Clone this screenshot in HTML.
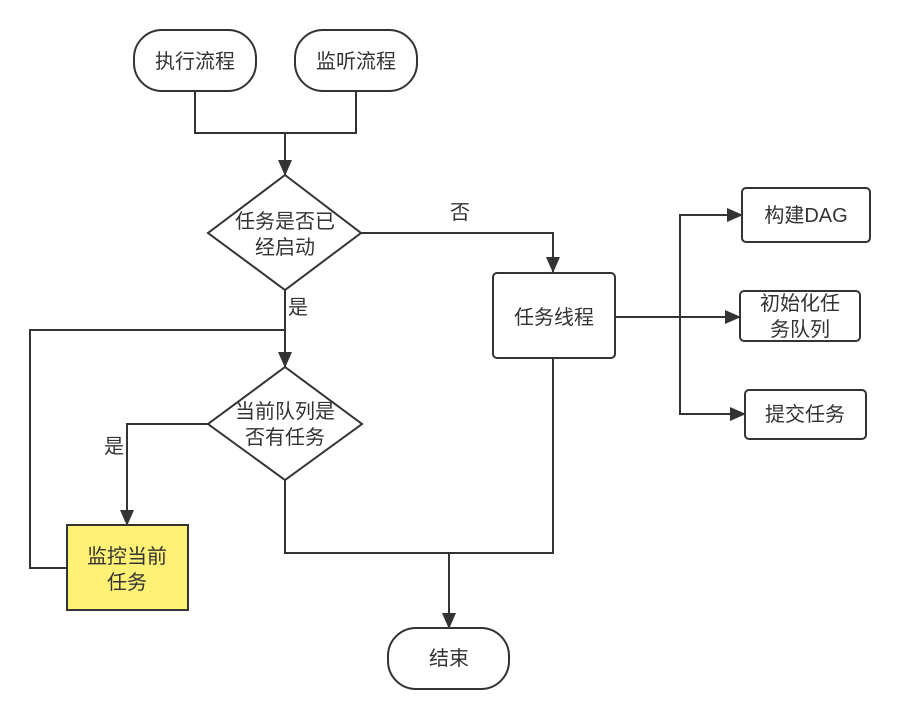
<!DOCTYPE html>
<html><head><meta charset="utf-8"><style>
html,body{margin:0;padding:0;background:#fff;}
svg text{font-family:"Liberation Sans","Noto Sans CJK SC",sans-serif;font-size:20px;fill:#333;}
</style></head><body>
<svg width="901" height="720" viewBox="0 0 901 720" xmlns="http://www.w3.org/2000/svg">
<defs>
<marker id="b" markerWidth="16" markerHeight="14" refX="15" refY="7" orient="auto" markerUnits="userSpaceOnUse"><path d="M0,0 L16,7 L0,14 Z" fill="#333"/></marker></defs>
<g fill="none" stroke="#333" stroke-width="2">
<polyline points="195,91 195,133 356,133 356,91"/>
<polyline points="285,133 285,175" marker-end="url(#b)"/>
<polyline points="361,233 553,233 553,272" marker-end="url(#b)"/>
<polyline points="285,290 285,367" marker-end="url(#b)"/>
<polyline points="67,568 30,568 30,330 285,330"/>
<polyline points="208,424 127,424 127,525" marker-end="url(#b)"/>
<polyline points="285,480 285,553 553,553 553,358"/>
<polyline points="449,553 449,628" marker-end="url(#b)"/>
<polyline points="615,317 740,317" marker-end="url(#b)"/>
<polyline points="742,215 680,215 680,414 745,414" />
<polyline points="680,215 742,215" marker-end="url(#b)"/>
<polyline points="680,414 745,414" marker-end="url(#b)"/>
</g>
<g stroke="#333" stroke-width="2" fill="#fff">
<rect x="134" y="30" width="122" height="61" rx="28"/>
<rect x="295" y="30" width="122" height="61" rx="28"/>
<polygon points="285,175 361,233 285,290 208,233"/>
<polygon points="285,367 362,424 285,480 208,424"/>
<rect x="493" y="273" width="122" height="85" rx="4"/>
<rect x="742" y="188" width="128" height="54" rx="4"/>
<rect x="740" y="291" width="120" height="50" rx="4"/>
<rect x="745" y="390" width="121" height="49" rx="4"/>
<rect x="67" y="525" width="121" height="85" fill="#fff176"/>
<rect x="388" y="628" width="121" height="61" rx="28"/>
</g>
<g text-anchor="middle">
<text x="195" y="68">执行流程</text>
<text x="356" y="68">监听流程</text>
<text x="285" y="228">任务是否已</text>
<text x="285" y="254">经启动</text>
<text x="285" y="418">当前队列是</text>
<text x="285" y="444">否有任务</text>
<text x="554" y="324">任务线程</text>
<text x="806" y="222">构建DAG</text>
<text x="800" y="310">初始化任</text>
<text x="800" y="336">务队列</text>
<text x="805" y="421">提交任务</text>
<text x="127" y="563">监控当前</text>
<text x="127" y="589">任务</text>
<text x="449" y="665">结束</text>
<text x="460" y="219">否</text>
<text x="298" y="314">是</text>
<text x="114" y="453">是</text>
</g>
</svg>
</body></html>
